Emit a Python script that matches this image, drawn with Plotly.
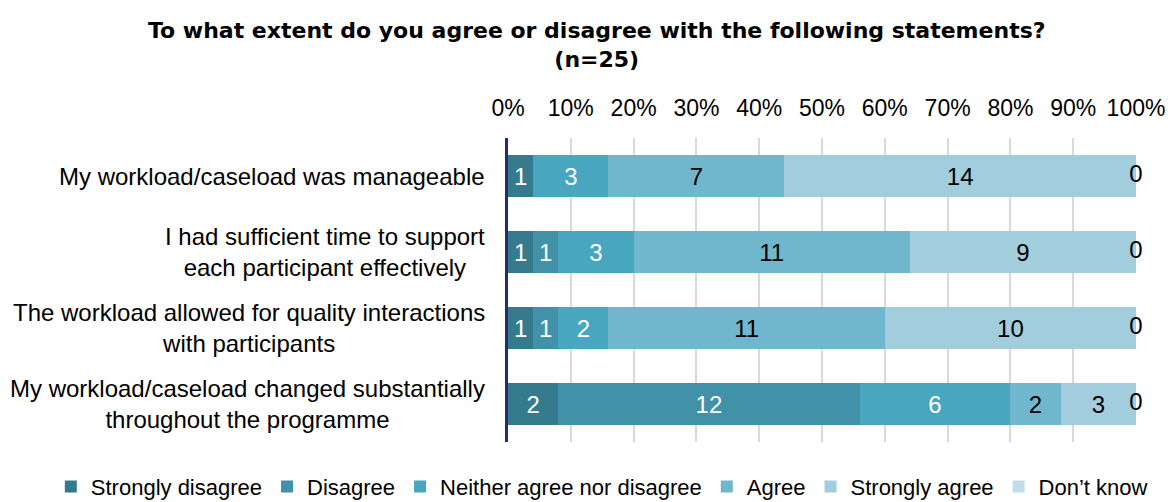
import plotly.graph_objects as go

statements = [
    "My workload/caseload was manageable",
    "I had sufficient time to support<br>each participant effectively",
    "The workload allowed for quality interactions<br>with participants",
    "My workload/caseload changed substantially<br>throughout the programme",
]
responses = ["Strongly disagree", "Disagree", "Neither agree nor disagree",
             "Agree", "Strongly agree", "Don\u2019t know"]
counts = {
    "Strongly disagree": [1, 1, 1, 2],
    "Disagree": [0, 1, 1, 12],
    "Neither agree nor disagree": [3, 3, 2, 6],
    "Agree": [7, 11, 11, 2],
    "Strongly agree": [14, 9, 10, 3],
    "Don\u2019t know": [0, 0, 0, 0],
}
n_total = 25
title_text = ("<b>To what extent do you agree or disagree with the following statements?"
              "<br>(n=25)</b>")

colors = ["#367b8d", "#4191a9", "#48a6bf", "#70b7cd", "#a2cddd", "#c0dde8"]
label_colors = ["white", "white", "white", "black", "black", "black"]
FONT = "Liberation Sans, Arial, sans-serif"
TITLE_FONT = "DejaVu Sans, Liberation Sans, Arial, sans-serif"

ids = list(range(len(statements)))
fig = go.Figure()
for resp, col, lc in zip(responses, colors, label_colors):
    vals = counts[resp]
    pct = [v / n_total * 100 for v in vals]
    fig.add_trace(go.Bar(
        y=ids, x=pct, orientation="h", name=resp,
        marker=dict(color=col, line=dict(width=0)),
        text=[str(v) if v > 0 else "" for v in vals],
        textposition="inside", insidetextanchor="middle",
        textfont=dict(color=lc, size=24, family=FONT),
        constraintext="none", hoverinfo="skip",
    ))

# zero counts for "Don't know" sit at the end of each bar
dk = counts["Don\u2019t know"]
fig.add_trace(go.Scatter(
    y=ids, x=[100] * len(ids), mode="text",
    text=[str(v) for v in dk], textposition="middle center",
    textfont=dict(color="black", size=24, family=FONT),
    showlegend=False, hoverinfo="skip", cliponaxis=False,
))

# statement labels, centred line by line, left of the axis
for i, s in enumerate(statements):
    fig.add_annotation(
        x=0, xref="paper", y=i, yref="y", text=s, showarrow=False,
        xanchor="right", yanchor="middle", align="center", xshift=-21,
        font=dict(size=24, color="black", family=FONT),
    )

fig.add_annotation(
    x=0.142, xref="paper", y=1.306, yref="paper", text=title_text,
    showarrow=False, xanchor="center", yanchor="middle", align="center",
    font=dict(size=22, color="black", family=TITLE_FONT),
)

fig.update_layout(
    width=1170, height=502,
    paper_bgcolor="white", plot_bgcolor="white",
    barmode="stack", bargap=0.44,
    margin=dict(l=508, r=34, t=138, b=60, autoexpand=False),
    font=dict(family=FONT, size=22, color="black"),
    legend=dict(
        orientation="h", x=-0.728, xanchor="left",
        y=-0.078, yanchor="top",
        font=dict(size=22, color="black", family=FONT),
        itemwidth=30, tracegroupgap=0, traceorder="normal",
    ),
    xaxis=dict(
        side="top", range=[0, 100], dtick=10, ticksuffix="%",
        showgrid=True, gridcolor="#d9d9d9", gridwidth=2,
        zeroline=False, showline=False, ticks="", ticklabelstandoff=16,
        tickfont=dict(size=23, color="black", family=FONT),
    ),
    yaxis=dict(
        range=[3.5, -0.5], showticklabels=False, showgrid=False,
        zeroline=False, showline=True, linecolor="#1c2f6e", linewidth=3,
        ticks="",
    ),
)

fig.write_html("out.html")
